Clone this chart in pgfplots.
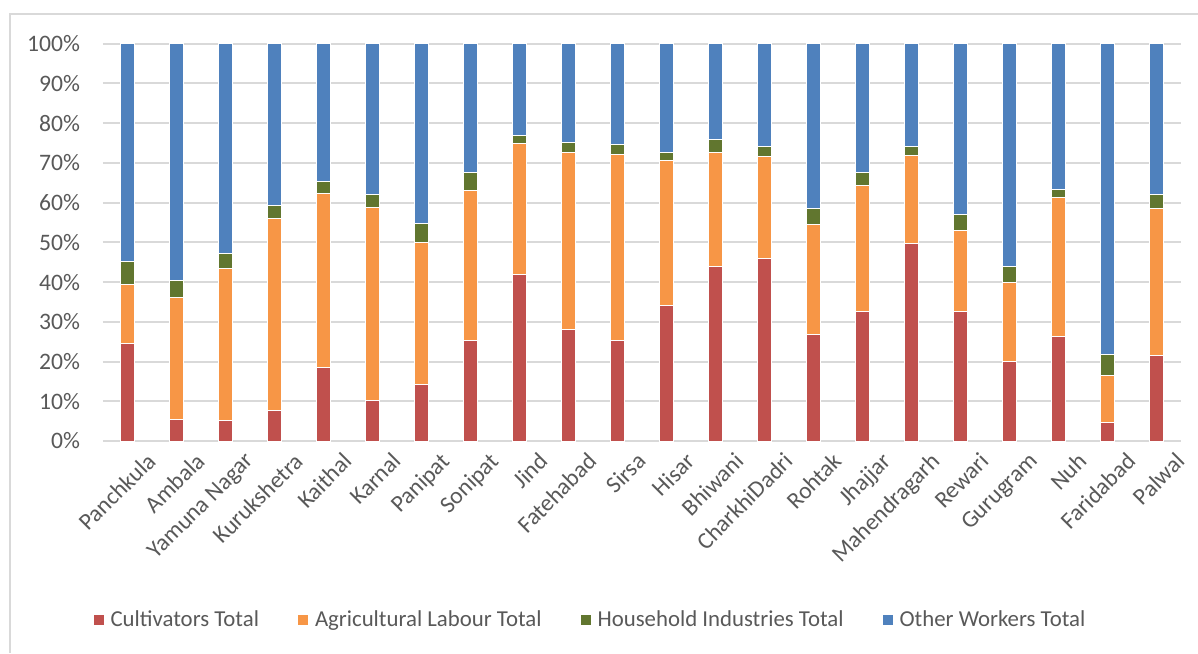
\documentclass[border=0pt]{standalone}
\usepackage{fontspec}
\setmainfont{Carlito}
\usepackage{pgfplots}
\usepackage{pgfplotstable}
\pgfplotsset{compat=1.18}
\definecolor{cult}{HTML}{C0504D}
\definecolor{agri}{HTML}{F79646}
\definecolor{hhi}{HTML}{61762F}
\definecolor{oth}{HTML}{4F81BD}
\definecolor{gridgray}{HTML}{D9D9D9}
\definecolor{textgray}{HTML}{595959}

\pgfplotstableread{
x c a h o
0 24.6 14.7 5.8 54.9
1 5.5 30.7 4.3 59.5
2 5.1 38.3 3.8 52.8
3 7.8 48.2 3.3 40.7
4 18.5 43.8 3.1 34.6
5 10.1 48.6 3.3 38.0
6 14.3 35.7 4.7 45.3
7 25.3 37.7 4.6 32.4
8 41.8 33.1 1.9 23.2
9 28.1 44.6 2.4 24.9
10 25.4 46.8 2.4 25.4
11 34.2 36.3 2.0 27.5
12 43.9 28.8 3.1 24.2
13 45.9 25.7 2.4 26.0
14 26.7 27.9 3.9 41.5
15 32.5 31.7 3.5 32.3
16 49.8 22.0 2.2 26.0
17 32.7 20.3 4.0 43.0
18 20.1 19.9 3.9 56.1
19 26.3 34.9 2.0 36.8
20 4.6 11.9 5.3 78.2
21 21.4 37.2 3.4 38.0
}\data

\begin{document}
\begin{tikzpicture}
\useasboundingbox (-51.5pt,-106pt) rectangle (547.5pt,220.5pt);
\fill[white] (-51.5pt,-106pt) rectangle (547.5pt,220.5pt);
\draw[color=gridgray, line width=0.75pt] (-46.5pt,-106pt) -- (-46.5pt,213.5pt) -- (547.5pt,213.5pt);
\begin{axis}[
  at={(0,0)}, anchor=south west,
  scale only axis,
  width=539pt, height=198.65pt,
  xmin=-0.5, xmax=21.5,
  ymin=0, ymax=100,
  ybar stacked,
  bar width=7pt,
  axis line style={draw=none},
  major tick length=0pt,
  ymajorgrids,
  grid style={color=gridgray, line width=1pt},
  ytick={0,10,...,100},
  yticklabels={0\%,10\%,20\%,30\%,40\%,50\%,60\%,70\%,80\%,90\%,100\%},
  xtick={0,...,21},
  xticklabels={Panchkula,Ambala,Yamuna Nagar,Kurukshetra,Kaithal,Karnal,Panipat,Sonipat,Jind,Fatehabad,Sirsa,Hisar,Bhiwani,CharkhiDadri,Rohtak,Jhajjar,Mahendragarh,Rewari,Gurugram,Nuh,Faridabad,Palwal},
  tick label style={font=\fontsize{11.8}{14}\selectfont, text=textgray},
  yticklabel style={xshift=-8pt},
  xticklabel style={rotate=45, anchor=north east, inner sep=0pt, xshift=3pt, yshift=-10pt},
  legend columns=4,
  legend style={at={(0.4545,-0.4505)}, anchor=center, draw=none, fill=none,
    font=\fontsize{11.4}{14}\selectfont, text=textgray,
    /tikz/every even column/.append style={column sep=16pt},
    /tikz/every odd column/.append style={column sep=0pt},
    nodes={inner sep=0pt, inner xsep=3.5pt}},
  legend image code/.code={\fill[#1,draw=none] (0pt,-2.5pt) rectangle (5pt,2.5pt);},
]
\addplot[fill=cult, draw=white, line width=0.5pt] table[x=x,y=c]{\data};
\addplot[fill=agri, draw=white, line width=0.5pt] table[x=x,y=a]{\data};
\addplot[fill=hhi, draw=white, line width=0.5pt] table[x=x,y=h]{\data};
\addplot[fill=oth, draw=white, line width=0.5pt] table[x=x,y=o]{\data};
\legend{Cultivators Total,Agricultural Labour Total,Household Industries Total,Other Workers Total}
\end{axis}
\end{tikzpicture}
\end{document}
